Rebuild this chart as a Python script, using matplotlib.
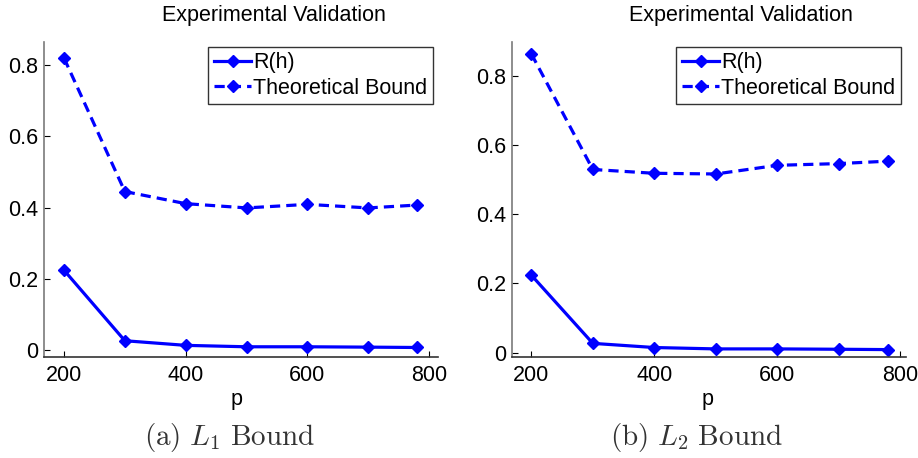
import matplotlib
matplotlib.use("Agg")
import matplotlib.pyplot as plt

p = [200, 300, 400, 500, 600, 700, 780]
r_l1 = [0.224, 0.026, 0.013, 0.009, 0.009, 0.008, 0.007]
tb_l1 = [0.82, 0.445, 0.411, 0.399, 0.409, 0.399, 0.407]
r_l2 = [0.224, 0.027, 0.015, 0.011, 0.011, 0.010, 0.009]
tb_l2 = [0.863, 0.529, 0.518, 0.516, 0.541, 0.546, 0.553]
xticks = [200, 400, 600, 800]
yticks = [0, 0.2, 0.4, 0.6, 0.8]
yticklabels = ["0", "0.2", "0.4", "0.6", "0.8"]
title = "Experimental Validation"
captions = [r"$\mathrm{(a)}\ L_1\ \mathrm{Bound}$", r"$\mathrm{(b)}\ L_2\ \mathrm{Bound}$"]

plt.rcParams['font.family'] = ['Liberation Sans', 'DejaVu Sans']
plt.rcParams['mathtext.fontset'] = 'cm'

W, H = 918, 458
fig = plt.figure(figsize=(W / 100, H / 100), dpi=100)

def fx(x):
    return x / W

def fy(y):
    return 1 - y / H

panels = [
    dict(box=(44, 42, 438, 357), xlim=(167.1, 814.8), ylim=(-0.0197, 0.865),
         r=r_l1, tb=tb_l1, title_x=274, p_x=237, cap_x=230, leg=(433, 47)),
    dict(box=(512, 42, 906, 356.7), xlim=(168.6, 809.3), ylim=(-0.0115, 0.897),
         r=r_l2, tb=tb_l2, title_x=741, p_x=708, cap_x=696, leg=(901, 47)),
]

blue = '#0000ff'
FS = 15.5
for i, pn in enumerate(panels):
    x0, y0, x1, y1 = pn['box']
    ax = fig.add_axes([fx(x0), fy(y1), fx(x1) - fx(x0), fy(y0) - fy(y1)])
    ax.plot(p, pn['r'], color=blue, lw=2.3, marker='D', ms=6.3, label='R(h)')
    ax.plot(p, pn['tb'], color=blue, lw=2.3, marker='D', ms=6.3, ls=(0, (3.2, 1.9)),
            label='Theoretical Bound')
    ax.set_xlim(*pn['xlim'])
    ax.set_ylim(*pn['ylim'])
    ax.set_xticks(xticks)
    ax.set_yticks(yticks)
    ax.set_yticklabels(yticklabels)
    for s in ['top', 'right']:
        ax.spines[s].set_visible(False)
    ax.spines['left'].set_color('#7a7a7a')
    ax.spines['bottom'].set_color('#333333')
    ax.spines['left'].set_linewidth(1.2)
    ax.spines['bottom'].set_linewidth(1.2)
    ax.tick_params(direction='in', length=4, labelsize=FS, width=0.8, pad=4)
    ax.tick_params(axis='x', pad=6)
    leg = ax.legend(loc='upper right', bbox_to_anchor=(fx(pn['leg'][0]), fy(pn['leg'][1])),
                    bbox_transform=fig.transFigure, fontsize=FS, frameon=True, fancybox=False,
                    edgecolor='black', handlelength=1.75, handletextpad=0.1, borderpad=0.25,
                    labelspacing=0.2, borderaxespad=0)
    leg.get_frame().set_linewidth(1.0)
    fig.text(fx(pn['title_x']), fy(16), title, ha='center', va='center', fontsize=FS)
    fig.text(fx(pn['p_x']), fy(399), 'p', ha='center', va='center', fontsize=FS)
    fig.text(fx(pn['cap_x']), fy(437), captions[i], ha='center', va='center',
             fontsize=21, color='#333333')

fig.savefig('out.png', dpi=100)
